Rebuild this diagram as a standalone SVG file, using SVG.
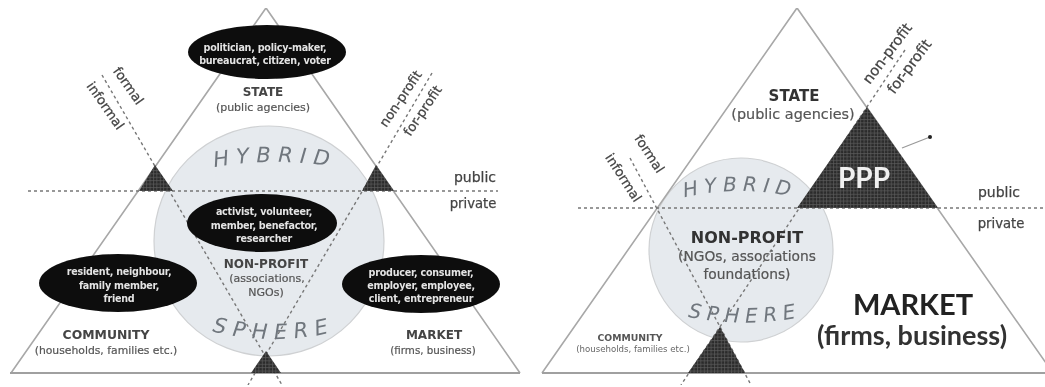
<svg xmlns="http://www.w3.org/2000/svg" width="1045" height="387" viewBox="0 0 1045 387">
<style>
text{font-family:"DejaVu Sans","Liberation Sans",sans-serif;text-anchor:middle;fill:#444}
.tri{fill:none;stroke:#a8a8a8;stroke-width:1.6}
.base{fill:none;stroke:#a0a0a0;stroke-width:2.2}
.dash{fill:none;stroke:#777;stroke-width:1.4;stroke-dasharray:3 3}
.circ{fill:#e6eaee;stroke:#cfd1d3;stroke-width:1.2}
.ell{fill:#0a0a0a}
.w{fill:#e4e4e4;font-size:9.6px;font-weight:700;letter-spacing:-.25px}
.s{font-size:11px;fill:#555;stroke:#555;stroke-width:.2}
.h{font-size:12px;fill:#444;font-weight:700}
.sph{fill:#6f767d;font-size:21px;letter-spacing:7px;font-style:italic}
.lab{font-size:13.2px;fill:#444;stroke:#444;stroke-width:.25}
.sm{fill:url(#grid)}
.big{font-family:"Lato","Liberation Sans",sans-serif;font-weight:700}
</style>
<defs>
<pattern id="grid" width="3.4" height="3.4" patternUnits="userSpaceOnUse"><rect width="3.4" height="3.4" fill="#2c2c2c"/><path d="M0 .5H3.4M.5 0V3.4" stroke="#5c5c5c" stroke-width=".7"/></pattern>
<filter id="soft" x="0" y="0" width="100%" height="100%"><feGaussianBlur stdDeviation="0.7"/></filter>
<path id="hyb-l" d="M215 167Q274 157 335 167"/>
<path id="sph-l" d="M215 332Q274 346 333 332"/>
<path id="hyb-r" d="M682 198Q740 184 798 198"/>
<path id="sph-r" d="M688 317Q745 328 802 317"/>
</defs>
<rect width="1045" height="387" fill="#fff"/>
<g filter="url(#soft)">
<g id="left-diagram-base">
<circle id="left-sphere" class="circ" cx="269" cy="241" r="115"/>
<path class="tri" d="M11 373L266 8L520 373"/>
<path class="base" d="M10 373H520"/>
</g>
<g id="right-diagram-base">
<circle id="right-sphere" class="circ" cx="741" cy="250" r="92"/>
<path class="tri" d="M542 373L797 8L1053 373"/>
<path class="base" d="M542 373H1045" style="stroke-width:1.8"/>
</g>
<g id="connectors">
<path class="dash" d="M28 191H498"/>
<path class="dash" d="M102 75L282 385"/>
<path class="dash" d="M432 73L248 385"/>
<path class="dash" d="M578 208H1045"/>
<path class="dash" d="M630 158L751 385"/>
<path class="dash" d="M905 50L681 385"/>
<path d="M902 148L930 137" fill="none" stroke="#999" stroke-width="1.2"/>
</g>
<g id="left-corners">
<path class="sm" d="M155 165L173 191H139Z"/>
<path class="sm" d="M376 165L394 191H362Z"/>
<path class="sm" d="M266 351L281 373H251Z"/>
</g>
<g id="node-state-actors"><ellipse class="ell" cx="267" cy="52" rx="79" ry="27"/>
<text class="w" x="265" y="51">politician, policy-maker,</text><text class="w" x="265" y="64">bureaucrat, citizen, voter</text></g>
<g id="node-state"><text class="h" x="263" y="96">STATE</text><text class="s" x="263" y="111">(public agencies)</text></g>
<g id="node-nonprofit-actors"><ellipse class="ell" cx="262" cy="223" rx="75" ry="29"/>
<text class="w" x="264" y="215">activist, volunteer,</text><text class="w" x="264" y="229">member, benefactor,</text><text class="w" x="264" y="242">researcher</text></g>
<g id="node-nonprofit"><text class="h" x="266" y="268">NON-PROFIT</text><text class="s" x="267" y="282">(associations,</text><text class="s" x="266" y="296">NGOs)</text></g>
<g id="node-community-actors"><ellipse class="ell" cx="118" cy="283" rx="79" ry="29"/>
<text class="w" x="119" y="275">resident, neighbour,</text><text class="w" x="119" y="289">family member,</text><text class="w" x="119" y="302">friend</text></g>
<g id="node-community"><text class="h" x="106" y="339" style="font-size:12.4px">COMMUNITY</text><text class="s" x="106" y="354" style="font-size:10.8px">(households, families etc.)</text></g>
<g id="node-market-actors"><ellipse class="ell" cx="421" cy="284" rx="79" ry="29"/>
<text class="w" x="421" y="276">producer, consumer,</text><text class="w" x="421" y="289">employer, employee,</text><text class="w" x="421" y="302">client, entrepreneur</text></g>
<g id="node-market"><text class="h" x="434" y="339">MARKET</text><text class="s" x="433" y="354" style="font-size:10.3px">(firms, business)</text></g>
<g id="left-sphere-labels">
<text class="sph"><textPath href="#hyb-l" startOffset="50%">HYBRID</textPath></text>
<text class="sph"><textPath href="#sph-l" startOffset="50%">SPHERE</textPath></text>
</g>
<g id="left-axis-labels">
<text class="lab" x="475" y="182" style="font-size:14px">public</text>
<text class="lab" x="473" y="208">private</text>
<text class="lab" dy="4" transform="translate(128,86) rotate(55)">formal</text>
<text class="lab" dy="4" transform="translate(105,106) rotate(55)">informal</text>
<text class="lab" dy="4" transform="translate(401,99) rotate(-56)">non-profit</text>
<text class="lab" dy="4" transform="translate(423,111) rotate(-56)">for-profit</text>
</g>
<g id="node-ppp"><path class="sm" d="M867 107L938 208H797Z"/><text class="big" x="864" y="188" style="font-size:28px;fill:#f0f0f0">PPP</text></g>
<g id="right-corner"><path class="sm" d="M720 327L745 373H688Z"/></g>
<circle id="ppp-dot" cx="930" cy="137" r="2" fill="#222"/>
<g id="node-state-r"><text x="794" y="101" style="font-size:15px;fill:#333;font-weight:700">STATE</text><text class="s" x="793" y="119" style="font-size:14.4px">(public agencies)</text></g>
<g id="node-nonprofit-r"><text x="747" y="243" style="font-size:16px;fill:#333;font-weight:700">NON-PROFIT</text><text class="s" x="747" y="261" style="font-size:13.8px">(NGOs, associations</text><text class="s" x="747" y="279" style="font-size:13.8px">foundations)</text></g>
<g id="node-community-r"><text x="630" y="341" style="font-size:9.3px;fill:#555;font-weight:700">COMMUNITY</text><text x="633" y="352" style="font-size:8.6px;fill:#666">(households, families etc.)</text></g>
<g id="node-market-r"><text class="big" x="913" y="315" style="font-size:29px;fill:#222">MARKET</text><text class="big" x="912" y="345" style="font-size:27px;fill:#333">(firms, business)</text></g>
<g id="right-sphere-labels">
<text class="sph" style="font-size:20px;letter-spacing:6px"><textPath href="#hyb-r" startOffset="50%">HYBRID</textPath></text>
<text class="sph" style="font-size:20px;letter-spacing:6px"><textPath href="#sph-r" startOffset="50%">SPHERE</textPath></text>
</g>
<g id="right-axis-labels">
<text class="lab" x="999" y="197" style="font-size:14px">public</text>
<text class="lab" x="1001" y="228">private</text>
<text class="lab" dy="4" transform="translate(649,154) rotate(57)">formal</text>
<text class="lab" dy="4" transform="translate(623,178) rotate(57)">informal</text>
<text class="lab" dy="4" transform="translate(888,54) rotate(-53)" style="font-size:14.6px">non-profit</text>
<text class="lab" dy="4" transform="translate(910,67) rotate(-53)" style="font-size:14.6px">for-profit</text>
</g>
</g>
</svg>
